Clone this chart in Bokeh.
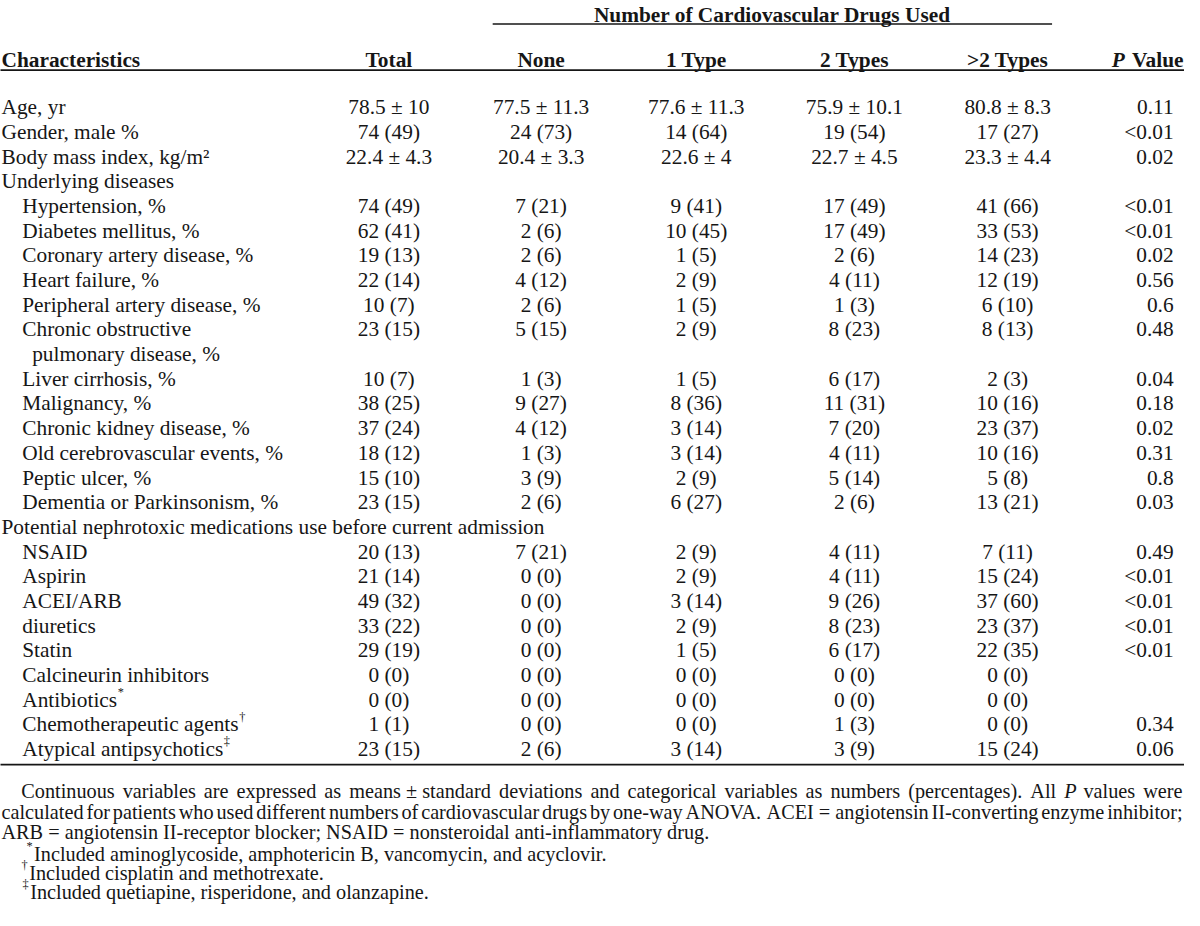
from bokeh.plotting import figure
from bokeh.models import ColumnDataSource, Range1d
from bokeh.core.properties import value
from bokeh.embed import file_html
from bokeh.resources import INLINE

# ---------------- data ----------------
group_header = "Number of Cardiovascular Drugs Used"
first_header = "Characteristics"
column_headers = ["Total", "None", "1 Type", "2 Types", ">2 Types"]
p_header = ("P", " Value")

characteristics = [
    "Age, yr", "Gender, male %", "Body mass index, kg/m\u00b2", "Underlying diseases",
    "Hypertension, %", "Diabetes mellitus, %", "Coronary artery disease, %",
    "Heart failure, %", "Peripheral artery disease, %",
    "Chronic obstructive\npulmonary disease, %", "Liver cirrhosis, %",
    "Malignancy, %", "Chronic kidney disease, %", "Old cerebrovascular events, %",
    "Peptic ulcer, %", "Dementia or Parkinsonism, %",
    "Potential nephrotoxic medications use before current admission",
    "NSAID", "Aspirin", "ACEI/ARB", "diuretics", "Statin",
    "Calcineurin inhibitors", "Antibiotics", "Chemotherapeutic agents",
    "Atypical antipsychotics",
]
label_marks = [""] * 23 + ["*", "\u2020", "\u2021"]
indent_level = [0, 0, 0, 0, 1, 1, 1, 1, 1, 1, 1, 1, 1, 1, 1, 1, 0,
                1, 1, 1, 1, 1, 1, 1, 1, 1]

total = ["78.5 \u00b1 10", "74 (49)", "22.4 \u00b1 4.3", "", "74 (49)", "62 (41)",
         "19 (13)", "22 (14)", "10 (7)", "23 (15)", "10 (7)", "38 (25)", "37 (24)",
         "18 (12)", "15 (10)", "23 (15)", "", "20 (13)", "21 (14)", "49 (32)",
         "33 (22)", "29 (19)", "0 (0)", "0 (0)", "1 (1)", "23 (15)"]
none_used = ["77.5 \u00b1 11.3", "24 (73)", "20.4 \u00b1 3.3", "", "7 (21)", "2 (6)",
             "2 (6)", "4 (12)", "2 (6)", "5 (15)", "1 (3)", "9 (27)", "4 (12)",
             "1 (3)", "3 (9)", "2 (6)", "", "7 (21)", "0 (0)", "0 (0)", "0 (0)",
             "0 (0)", "0 (0)", "0 (0)", "0 (0)", "2 (6)"]
one_type = ["77.6 \u00b1 11.3", "14 (64)", "22.6 \u00b1 4", "", "9 (41)", "10 (45)",
            "1 (5)", "2 (9)", "1 (5)", "2 (9)", "1 (5)", "8 (36)", "3 (14)",
            "3 (14)", "2 (9)", "6 (27)", "", "2 (9)", "2 (9)", "3 (14)", "2 (9)",
            "1 (5)", "0 (0)", "0 (0)", "0 (0)", "3 (14)"]
two_types = ["75.9 \u00b1 10.1", "19 (54)", "22.7 \u00b1 4.5", "", "17 (49)", "17 (49)",
             "2 (6)", "4 (11)", "1 (3)", "8 (23)", "6 (17)", "11 (31)", "7 (20)",
             "4 (11)", "5 (14)", "2 (6)", "", "4 (11)", "4 (11)", "9 (26)",
             "8 (23)", "6 (17)", "0 (0)", "0 (0)", "1 (3)", "3 (9)"]
more_types = ["80.8 \u00b1 8.3", "17 (27)", "23.3 \u00b1 4.4", "", "41 (66)", "33 (53)",
              "14 (23)", "12 (19)", "6 (10)", "8 (13)", "2 (3)", "10 (16)",
              "23 (37)", "10 (16)", "5 (8)", "13 (21)", "", "7 (11)", "15 (24)",
              "37 (60)", "23 (37)", "22 (35)", "0 (0)", "0 (0)", "0 (0)", "15 (24)"]
p_values = ["0.11", "<0.01", "0.02", "", "<0.01", "<0.01", "0.02", "0.56", "0.6",
            "0.48", "0.04", "0.18", "0.02", "0.31", "0.8", "0.03", "", "0.49",
            "<0.01", "<0.01", "<0.01", "<0.01", "", "", "0.34", "0.06"]

# footnote paragraph: justified lines as word tokens ("*P" = italic)
footnote_line1 = ["Continuous", "variables", "are", "expressed", "as",
                  "means \u00b1 standard", "deviations", "and", "categorical",
                  "variables", "as", "numbers", "(percentages).", "All", "*P",
                  "values", "were"]
footnote_line2 = ["calculated", "for", "patients", "who", "used", "different",
                  "numbers", "of", "cardiovascular", "drugs", "by", "one-way",
                  "ANOVA.", "ACEI = angiotensin", "II-converting", "enzyme",
                  "inhibitor;"]
footnote_line3 = "ARB = angiotensin II-receptor blocker; NSAID = nonsteroidal anti-inflammatory drug."
footnote_marks = ["*", "\u2020", "\u2021"]
footnote_texts = ["Included aminoglycoside, amphotericin B, vancomycin, and acyclovir.",
                  "Included cisplatin and methotrexate.",
                  "Included quetiapine, risperidone, and olanzapine."]

# ---------------- layout helpers ----------------
TIMES = {' ': 250, '!': 333, '"': 408, '#': 500, '$': 500, '%': 833, '&': 778,
         "'": 180, '(': 333, ')': 333, '*': 500, '+': 564, ',': 250, '-': 333,
         '.': 250, '/': 278, ':': 278, ';': 278, '<': 564, '=': 564, '>': 564,
         '?': 444, 'A': 722, 'B': 667, 'C': 667, 'D': 722, 'E': 611, 'F': 556,
         'G': 722, 'H': 722, 'I': 333, 'J': 389, 'K': 722, 'L': 611, 'M': 889,
         'N': 722, 'O': 722, 'P': 556, 'Q': 722, 'R': 667, 'S': 556, 'T': 611,
         'U': 722, 'V': 722, 'W': 944, 'X': 722, 'Y': 722, 'Z': 611, 'a': 444,
         'b': 500, 'c': 444, 'd': 500, 'e': 444, 'f': 333, 'g': 500, 'h': 500,
         'i': 278, 'j': 278, 'k': 500, 'l': 278, 'm': 778, 'n': 500, 'o': 500,
         'p': 500, 'q': 500, 'r': 333, 's': 389, 't': 278, 'u': 500, 'v': 500,
         'w': 722, 'x': 500, 'y': 500, 'z': 444, '\u00b1': 564, '\u00b2': 300}
for d in "0123456789":
    TIMES[d] = 500


def tw(s, size):
    return sum(TIMES.get(c, 500) for c in s) * size / 1000.0


X0, X1 = 1.0, 1199.0
Y0, Y1 = 1.0, 930.0
FIG_W, FIG_H = 1184, 910
SCALE = FIG_W / (X1 - X0)

FS = 21.6          # table font (reference px)
FN = 20.5          # footnote font
SUP = 12.5
FONT = value("Liberation Serif")
INK = "#161616"


def px(sz):
    return value("%.2fpx" % (sz * SCALE))


p = figure(width=FIG_W, height=FIG_H, x_range=Range1d(X0, X1),
           y_range=Range1d(Y1, Y0), output_backend="svg",
           toolbar_location=None, min_border=0)
p.xaxis.visible = False
p.yaxis.visible = False
p.xgrid.visible = False
p.ygrid.visible = False
p.outline_line_color = None
p.background_fill_color = "white"
p.border_fill_color = "white"

groups = {}


def add(x, y, t, align="left", size=FS, style="normal"):
    key = (align, size, style)
    g = groups.setdefault(key, {"x": [], "y": [], "t": []})
    g["x"].append(x)
    g["y"].append(y)
    g["t"].append(t)


# ---- headers ----
col_x = [394, 548, 705, 865, 1020]
P_RIGHT_VAL = 1188
P_RIGHT_HDR = 1198
add(782, 16, group_header, "center", FS, "bold")
add(2, 62, first_header, "left", FS, "bold")
for cx, h in zip(col_x, column_headers):
    add(cx, 62, h, "center", FS, "bold")
value_w = sum({' ': 250, 'V': 722, 'a': 500, 'l': 278, 'u': 556, 'e': 444}[c]
              for c in p_header[1]) * FS / 1000.0
add(P_RIGHT_HDR, 62, p_header[1].strip(), "right", FS, "bold")
add(P_RIGHT_HDR - value_w, 62, p_header[0], "right", FS, "bold italic")

# ---- body ----
BASE0 = 110.0
ROW = 25.2
INDENT = {0: 2, 1: 23}
columns = [total, none_used, one_type, two_types, more_types]
line = 0
for i, label in enumerate(characteristics):
    y = BASE0 + line * ROW
    parts = label.split("\n")
    x0 = INDENT[indent_level[i]]
    add(x0, y, parts[0])
    for k, cont in enumerate(parts[1:], 1):
        add(x0 + 10, y + k * ROW, cont)
    if label_marks[i]:
        mx = x0 + tw(parts[-1], FS) + 0.5
        add(mx, y + (len(parts) - 1) * ROW - 8, label_marks[i], "left", SUP)
    for cx, col in zip(col_x, columns):
        if col[i]:
            add(cx, y, col[i], "center")
    if p_values[i]:
        add(P_RIGHT_VAL, y, p_values[i], "right")
    line += len(parts)

# ---- footnotes ----
FN_BASE = [808, 829, 850, 872, 892, 911]
RIGHT_EDGE = 1197


def justify(tokens, left, right, y):
    widths = [tw(t.lstrip("*"), FN) for t in tokens]
    gap = (right - left - sum(widths)) / (len(tokens) - 1)
    gap = max(gap, 1.5)
    x = left
    for j, (t, w) in enumerate(zip(tokens, widths)):
        style = "italic" if t.startswith("*") else "normal"
        txt = t.lstrip("*")
        if j == len(tokens) - 1:
            add(right, y, txt, "right", FN, style)
        else:
            add(x, y, txt, "left", FN, style)
        x += w + gap


justify(footnote_line1, 22, RIGHT_EDGE, FN_BASE[0])
justify(footnote_line2, 2, RIGHT_EDGE, FN_BASE[1])
add(2, FN_BASE[2], footnote_line3, "left", FN)
text_x = [35, 30, 31]
for k in range(3):
    add(text_x[k] - 1.5, FN_BASE[3 + k] - 8, footnote_marks[k], "right", SUP)
    add(text_x[k], FN_BASE[3 + k], footnote_texts[k], "left", FN)

# ---- rules ----
p.segment(x0=[499], y0=[25], x1=[1065], y1=[25], line_color=INK, line_width=1.5)
p.segment(x0=[0, 0], y0=[72, 781], x1=[1200, 1200], y1=[72, 781],
          line_color=INK, line_width=1.7)

for (align, size, style), g in groups.items():
    src = ColumnDataSource(dict(x=g["x"], y=g["y"], text=g["t"]))
    p.text(x="x", y="y", text="text", source=src, text_align=align,
           text_baseline="alphabetic", text_font=FONT, text_font_size=px(size),
           text_font_style=style, text_color=INK)

open("out.html", "w").write(file_html(p, INLINE))
